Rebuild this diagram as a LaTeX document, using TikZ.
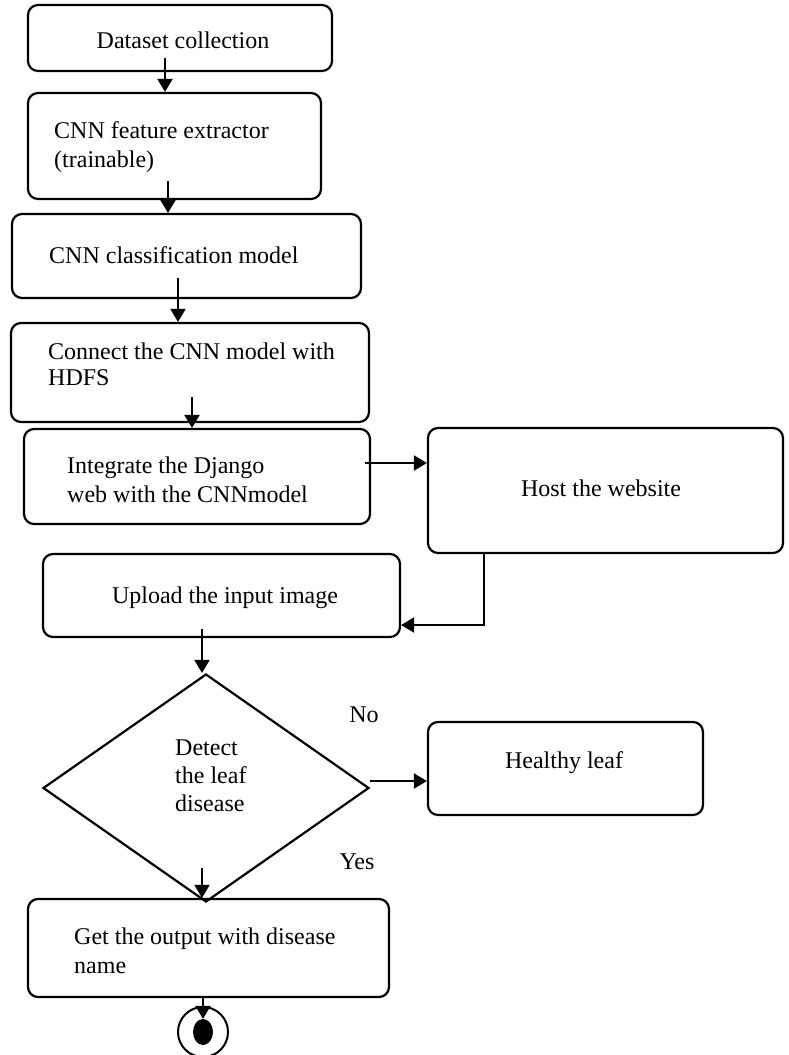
\documentclass[tikz,border=0pt]{standalone}
\usepackage{fontspec}
\setmainfont{Liberation Serif}
\usetikzlibrary{arrows.meta, shapes.geometric}

\begin{document}
\begin{tikzpicture}[x=1pt, y=-1pt,
  box/.style={draw, rounded corners=10pt, line width=2.2pt},
  txt/.style={inner sep=0pt, align=left, font=\fontsize{24}{29}\selectfont},
  arr/.style={line width=2pt, -{Triangle[length=13pt, width=15pt]}}]
  \useasboundingbox (0,0) rectangle (789,1055);

  % Process boxes
  \node[box, minimum width=304pt, minimum height=66pt] (data) at (180,38) {};
  \node[box, minimum width=293pt, minimum height=106pt] (feat) at (174.5,146) {};
  \node[box, minimum width=349pt, minimum height=84pt] (cls) at (186.5,256) {};
  \node[box, minimum width=358pt, minimum height=99pt] (hdfs) at (190,372.5) {};
  \node[box, minimum width=346pt, minimum height=95pt] (django) at (197,476.5) {};
  \node[box, minimum width=355pt, minimum height=125pt] (host) at (605.5,490.5) {};
  \node[box, minimum width=357pt, minimum height=83pt] (upload) at (221.5,595.5) {};
  \node[draw, diamond, line width=2.2pt, minimum width=326pt, minimum height=228pt, inner sep=0pt] (dec) at (206,788) {};
  \node[box, minimum width=275pt, minimum height=93pt] (healthy) at (565.5,768.5) {};
  \node[box, minimum width=361pt, minimum height=98pt] (output) at (208.5,948) {};

  % Texts (base = baseline of the last line)
  \node[txt, anchor=base] (dataT) at (183,48) {Dataset collection};
  \node[txt, anchor=base west] (featT) at (54,167) {CNN feature extractor\\(trainable)};
  \node[txt, anchor=base west] (clsT) at (49,263) {CNN classification model};
  \node[txt, anchor=base west] (hdfsT) at (48,385) {Connect the CNN model with\\[-3pt]HDFS};
  \node[txt, anchor=base west] (djT) at (67,502) {Integrate the Django\\web with the CNNmodel};
  \node[txt, anchor=base] (hostT) at (601,496) {Host the website};
  \node[txt, anchor=base] (upT) at (225,603) {Upload the input image};
  \node[txt, anchor=base west] (decT) at (175,811) {Detect\\[-1pt]the leaf\\[-1pt]disease};
  \node[txt, anchor=base] (noT) at (364,722) {No};
  \node[txt, anchor=base] (healthyT) at (564,768) {Healthy leaf};
  \node[txt, anchor=base] (yesT) at (357,869) {Yes};
  \node[txt, anchor=base west] (outT) at (74,973) {Get the output with disease\\name};

  % Final state
  \node[draw, circle, line width=2pt, minimum size=50pt, inner sep=0pt] (endc) at (203,1032) {};
  \node[ellipse, fill, minimum width=20pt, minimum height=26pt, inner sep=0pt] (endd) at (203,1032) {};

  % Arrows
  \draw[arr] ([xshift=-15pt,yshift=14pt]data.south) -- ([xshift=-9.5pt]feat.north);
  \draw[arr] ([xshift=-6.5pt,yshift=19pt]feat.south) -- ([xshift=-18.5pt]cls.north);
  \draw[arr] ([xshift=-8.5pt,yshift=21pt]cls.south) -- ([xshift=-12pt]hdfs.north);
  \draw[arr] ([xshift=2pt,yshift=26pt]hdfs.south) -- ([xshift=-5pt]django.north);
  \draw[arr] ([xshift=-6pt,yshift=13.5pt]django.east) -- ([yshift=27.5pt]host.west);
  \draw[arr] ([xshift=-121.5pt]host.south) |- ([yshift=-29.5pt]upload.east);
  \draw[arr] ([xshift=-19.5pt,yshift=9pt]upload.south) -- ([xshift=-4pt]dec.north);
  \draw[arr] ([yshift=7pt]dec.east) -- ([yshift=-12.5pt]healthy.west);
  \draw[arr] ([xshift=-4pt,yshift=35pt]dec.south) -- ([xshift=-6.5pt]output.north);
  \draw[arr] ([xshift=-5.5pt]output.south) -- (endd.north);
\end{tikzpicture}
\end{document}
